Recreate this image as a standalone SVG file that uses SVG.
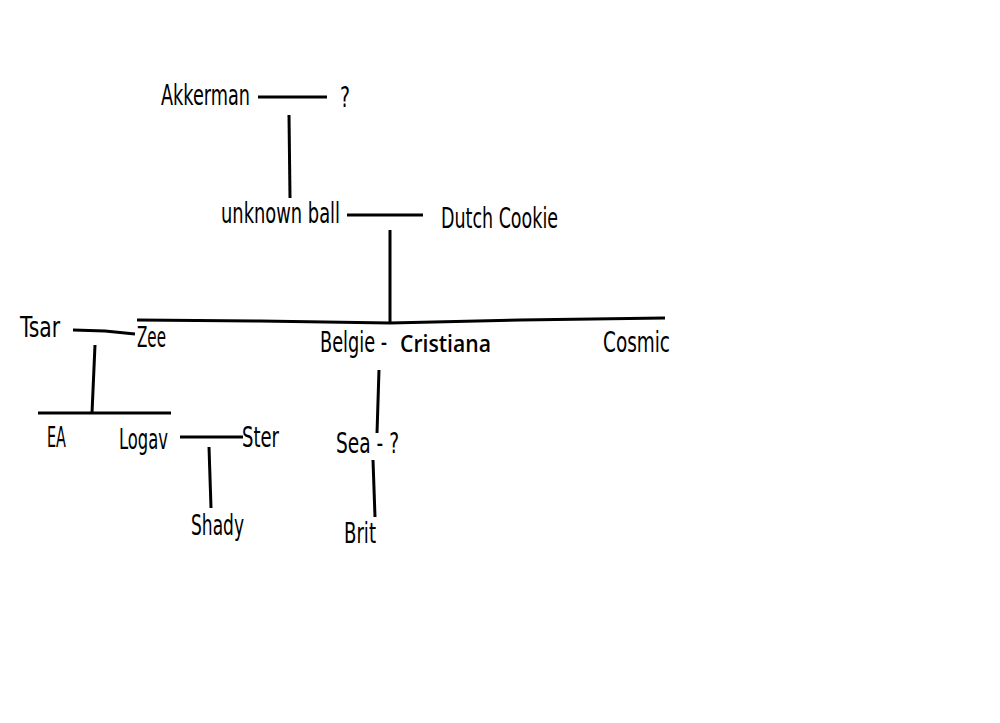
<svg xmlns="http://www.w3.org/2000/svg" width="1000" height="723" viewBox="0 0 1000 723">
<style>
.t{font-family:"Liberation Sans Narrow","DejaVu Sans Condensed","Liberation Sans",sans-serif;font-size:28px;fill:#000}
.b{font-family:"Open Sans","Noto Sans","Liberation Sans",sans-serif;font-size:23px;font-weight:600;fill:#000}
.c line,.c polyline{stroke:#000;stroke-width:3;fill:none;stroke-linecap:butt}
</style>
<rect width="1000" height="723" fill="#fff"/>
<g class="c" id="connectors">
<line x1="258" y1="97" x2="327" y2="97"/>
<line x1="289" y1="115" x2="290" y2="198"/>
<line x1="347" y1="215" x2="423" y2="215"/>
<line x1="390" y1="230" x2="390" y2="323"/>
<polyline points="137,320 260,321 390,323 520,320 665,318"/>
<polyline points="73,330 105,331 135,334"/>
<line x1="95" y1="345" x2="92" y2="413"/>
<line x1="38" y1="413" x2="171" y2="413"/>
<line x1="180" y1="437" x2="243" y2="437"/>
<line x1="209" y1="447" x2="211" y2="508"/>
<line x1="379" y1="370" x2="377" y2="433"/>
<line x1="373" y1="460" x2="375" y2="517"/>
</g>
<g id="akkerman"><text class="t" x="161" y="105" textLength="89" lengthAdjust="spacingAndGlyphs">Akkerman</text></g>
<g id="q1"><text class="t" x="340" y="107" textLength="10" lengthAdjust="spacingAndGlyphs">?</text></g>
<g id="unknown"><text class="t" x="221" y="223" textLength="119" lengthAdjust="spacingAndGlyphs">unknown ball</text></g>
<g id="dutch"><text class="t" x="441" y="228" textLength="117" lengthAdjust="spacingAndGlyphs">Dutch Cookie</text></g>
<g id="tsar"><text class="t" x="20" y="337" textLength="40" lengthAdjust="spacingAndGlyphs">Tsar</text></g>
<g id="zee"><text class="t" x="137" y="347" textLength="29" lengthAdjust="spacingAndGlyphs">Zee</text></g>
<g id="belgie"><text class="t" transform="translate(320,352) scale(0.78,1)" textLength="86" lengthAdjust="spacingAndGlyphs">Belgie -</text><text class="b" x="400" y="352" textLength="91" lengthAdjust="spacingAndGlyphs">Cristiana</text></g>
<g id="cosmic"><text class="t" x="603" y="352" textLength="67" lengthAdjust="spacingAndGlyphs">Cosmic</text></g>
<g id="ea"><text class="t" x="47" y="447" textLength="19" lengthAdjust="spacingAndGlyphs">EA</text></g>
<g id="logav"><text class="t" x="119" y="449" textLength="49" lengthAdjust="spacingAndGlyphs">Logav</text></g>
<g id="ster"><text class="t" x="242" y="447" textLength="37" lengthAdjust="spacingAndGlyphs">Ster</text></g>
<g id="shady"><text class="t" x="191" y="535" textLength="53" lengthAdjust="spacingAndGlyphs">Shady</text></g>
<g id="sea"><text class="t" x="336" y="453" textLength="63" lengthAdjust="spacingAndGlyphs">Sea - ?</text></g>
<g id="brit"><text class="t" x="344" y="543" textLength="32" lengthAdjust="spacingAndGlyphs">Brit</text></g>
</svg>
